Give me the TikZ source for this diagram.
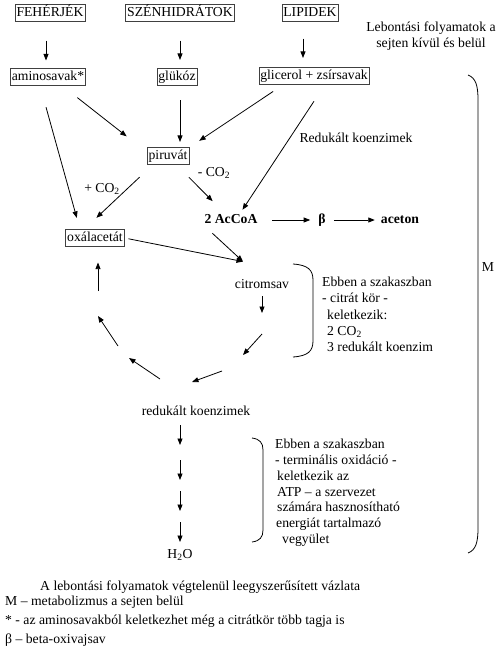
\documentclass[tikz,border=0pt]{standalone}
\usepackage{fontspec}
\setmainfont{Liberation Serif}
\usetikzlibrary{arrows.meta}
\newcommand{\diagFont}{\fontsize{13.7}{16.3}\selectfont}
\tikzstyle{pixelUnits} = [x = 1pt, y = -1pt]
\tikzstyle{textStyle} = [font=\diagFont, inner sep=0pt, text height=9.5pt, text depth=3pt]
\tikzstyle{boldText} = [textStyle, font=\diagFont\bfseries]
\tikzstyle{boxStyle} = [textStyle, draw=black!75, line width=.6pt, inner xsep=1.5pt, inner ysep=2pt]
\tikzstyle{blockText} = [inner sep=0pt, align=left, anchor=north west]
\tikzstyle{arrowStyle} = [-{Triangle[length=6.5pt, width=5pt]}, line width=.8pt]
\tikzstyle{braceStyle} = [line width=.8pt]
\newcommand{\cycleArrow}[2]{\draw [arrowStyle] (#1) -- (#2);}
\newcommand{\stepArrow}[2]{
  \coordinate (down#1) at (180,#2);
  \coordinate (downEnd#1) at (180,#2+20);
  \draw [arrowStyle] (down#1) -- (downEnd#1);
}

\begin{document}
\begin{tikzpicture}[pixelUnits]
  \useasboundingbox (0,0) rectangle (500,664);
  % sources
  \node [boxStyle] (proteins) at (50,13) {FEHÉRJÉK};
  \node [boxStyle] (carbs) at (180,13) {SZÉNHIDRÁTOK};
  \node [boxStyle] (lipids) at (310,13) {LIPIDEK};
  \node [textStyle, text height=, text depth=, align=center] (title) at (431,36) {Lebontási folyamatok a\\sejten kívül és belül};
  \node [boxStyle] (amino) at (48,77) {aminosavak*};
  \node [boxStyle] (glucose) at (177,77) {glükóz};
  \node [boxStyle] (glycerol) at (314,76) {glicerol + zsírsavak};
  \node [boxStyle] (pyruvate) at (168,156) {piruvát};
  \node [textStyle] (redCoenz) at (356,139) {Redukált koenzimek};
  \node [textStyle] (plusCO) at (102,189) {+ CO\textsubscript{2}};
  \node [textStyle] (minusCO) at (214,173) {- CO\textsubscript{2}};
  \node [boldText] (acoa) at (231,220) {2 AcCoA};
  \node [boldText] (beta) at (322,220) {β};
  \node [boldText] (acetone) at (400,220) {aceton};
  \node [boxStyle] (oxal) at (95,238) {oxálacetát};
  \node [textStyle] (citrate) at (262,285) {citromsav};
  \node [textStyle] (redCoenzB) at (196,412) {redukált koenzimek};
  \node [textStyle] (water) at (180,555) {H\textsubscript{2}O};
  \node [textStyle] (metab) at (488,268) {M};

  % first steps
  \draw [arrowStyle, shorten <=19pt, shorten >=8pt] ([xshift=-4pt]proteins.south) -- ([xshift=-4pt]proteins.south |- amino.north);
  \draw [arrowStyle, shorten <=19pt, shorten >=8.5pt] (carbs.south) -- (carbs.south |- glucose.north);
  \draw [arrowStyle, shorten <=17pt, shorten >=9.5pt] ([xshift=-7pt]lipids.south) -- ([xshift=-7pt]lipids.south |- glycerol.north);
  \draw [arrowStyle, shorten <=19.5pt, shorten >=18pt] ([xshift=14pt]amino.south) -- ([xshift=-6pt]pyruvate.north west);
  \draw [arrowStyle, shorten <=14.5pt, shorten >=5.5pt] ([xshift=3pt]glucose.south) -- ([xshift=3pt]glucose.south |- pyruvate.north);
  \draw [arrowStyle, shorten <=12.5pt, shorten >=12pt] ([xshift=25pt]glycerol.south west) -- (pyruvate.north east);
  \draw [arrowStyle, shorten <=20pt, shorten >=4.5pt] ([xshift=11pt]glycerol.south) -- ([xshift=9pt]acoa.north);
  \draw [arrowStyle, shorten <=22.5pt, shorten >=12pt] ([xshift=-8pt]amino.south) -- ([xshift=-15pt]oxal.north);
  \draw [arrowStyle, shorten <=18.5pt, shorten >=17pt] ([xshift=-15pt]pyruvate.south) -- ([xshift=-11pt]oxal.north);
  \draw [arrowStyle, shorten <=18pt, shorten >=17.5pt] ([xshift=-13pt]pyruvate.south east) -- ([xshift=-6pt]acoa.north);
  \draw [arrowStyle, shorten <=14.5pt, shorten >=8pt] (acoa.east) -- (beta.west);
  \draw [arrowStyle, shorten <=8pt, shorten >=6pt] (beta.east) -- (acetone.west);

  % citrate cycle
  \coordinate (citIn) at ([xshift=-19pt, yshift=17pt]citrate.north);
  \draw [arrowStyle, shorten <=4pt] (oxal.east) -- (citIn);
  \draw [arrowStyle, shorten <=10pt] ([xshift=-26pt]acoa.south) -- (citIn);
  \coordinate (k0) at (262,313);
  \coordinate (k1) at (262,334);
  \coordinate (k2) at (243,355);
  \coordinate (k3) at (222,371);
  \coordinate (k4) at (192,382);
  \coordinate (k5) at (160,379);
  \coordinate (k6) at (129,358);
  \coordinate (k7) at (118,346);
  \coordinate (k8) at (98,316);
  \coordinate (k9) at (98,291);
  \draw [arrowStyle, shorten <=5pt] (citrate.south) -- (k0);
  \cycleArrow{k1}{k2}
  \cycleArrow{k3}{k4}
  \cycleArrow{k5}{k6}
  \cycleArrow{k7}{k8}
  \draw [arrowStyle, shorten >=16pt] (k9) -- ([xshift=3pt]oxal.south);

  % terminal oxidation
  \stepArrow{1}{425}
  \stepArrow{2}{460}
  \stepArrow{3}{491}
  \stepArrow{4}{522}

  % braces and notes
  \draw [braceStyle] (293,264) .. controls (308,265) and (313,270) .. (313,280) -- (313,341) .. controls (313,351) and (308,356) .. (293,357);
  \node [blockText, font=\fontsize{13.7}{16.25}\selectfont] (citText) at (322,277) {Ebben a szakaszban\\- citrát kör -\\\hspace*{5pt}keletkezik:\\\hspace*{5pt}2 CO\textsubscript{2}\\\hspace*{5pt}3 redukált koenzim};
  \draw [braceStyle] (252,438) .. controls (260,439) and (263,443) .. (263,450) -- (263,530) .. controls (263,537) and (260,541) .. (252,542);
  \node [blockText, font=\fontsize{13.7}{15.8}\selectfont] (oxText) at (275,439) {Ebben a szakaszban\\- terminális oxidáció -\\\hspace*{2pt}keletkezik az\\\hspace*{2pt}ATP -- a szervezet\\\hspace*{2pt}számára hasznosítható\\\hspace*{1pt}energiát tartalmazó\\\hspace*{7pt}vegyület};
  \draw [braceStyle] (468,75) .. controls (476,78) and (478,86) .. (478,100) -- (478,528) .. controls (478,542) and (476,550) .. (468,553);

  % caption and legend
  \node [textStyle, anchor=west] (caption) at (40,587) {A lebontási folyamatok végtelenül leegyszerűsített vázlata};
  \node [textStyle, anchor=west] (legendM) at (5,602) {M -- metabolizmus a sejten belül};
  \node [textStyle, anchor=west] (legendStar) at (5,621) {* - az aminosavakból keletkezhet még a citrátkör több tagja is};
  \node [textStyle, anchor=west] (legendBeta) at (5,640) {β -- beta-oxivajsav};
\end{tikzpicture}
\end{document}
